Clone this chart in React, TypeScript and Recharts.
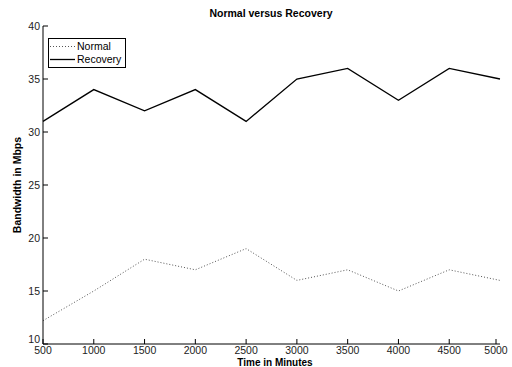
import React from "react";
import { LineChart, Line, XAxis, YAxis, Legend } from "recharts";

const minutes = [500, 1000, 1500, 2000, 2500, 3000, 3500, 4000, 4500, 5000];
const normal = [12.2, 15, 18, 17, 19, 16, 17, 15, 17, 16];
const recovery = [31, 34, 32, 34, 31, 35, 36, 33, 36, 35];
const xTicks = [500, 1000, 1500, 2000, 2500, 3000, 3500, 4000, 4500, 5000];
const yTicks = [10, 15, 20, 25, 30, 35, 40];

const data = minutes.map((m, i) => ({ m, normal: normal[i], recovery: recovery[i] }));

const font = "'Liberation Sans', Arial, sans-serif";
const TICK = 5;

// MATLAB-style inward ticks
const BottomTick = (p: any) => (
  <g>
    <line x1={p.x} y1={p.y} x2={p.x} y2={p.y - TICK} stroke="#000" />
    <text x={p.x} y={p.y + 9.5} textAnchor="middle" fontSize={10.5} fontFamily={font} fill="#222">
      {p.payload.value}
    </text>
  </g>
);
const LeftTick = (p: any) => (
  <g>
    <line x1={p.x} y1={p.y} x2={p.x + TICK} y2={p.y} stroke="#000" />
    <text
      x={p.x - 3}
      y={p.y + (p.payload.value === 10 ? -1 : 4)}
      textAnchor="end"
      fontSize={10.5}
      fontFamily={font}
      fill="#222"
    >
      {p.payload.value}
    </text>
  </g>
);
const TopTick = (p: any) => <line x1={p.x} y1={p.y} x2={p.x} y2={p.y + TICK} stroke="#000" />;
const RightTick = (p: any) => <line x1={p.x} y1={p.y} x2={p.x - TICK} y2={p.y} stroke="#000" />;

const LegendBox = () => (
  <svg width={78} height={30} style={{ display: "block" }}>
    <rect x={0.5} y={0.5} width={77} height={29} fill="#fff" stroke="#000" />
    <line x1={2} y1={8.5} x2={27} y2={8.5} stroke="#555" strokeDasharray="1 2" />
    <text x={29} y={12} fontSize={10.5} fontFamily={font} fill="#000">Normal</text>
    <line x1={2} y1={21.5} x2={27} y2={21.5} stroke="#000" strokeWidth={1.3} />
    <text x={29} y={25} fontSize={10.5} fontFamily={font} fill="#000">Recovery</text>
  </svg>
);

export default function App() {
  return (
    <div style={{ position: "absolute", left: 0, top: 0, width: 512, height: 367, background: "#fff" }}>
      <LineChart width={512} height={367} data={data} margin={{ top: 26, right: 12, left: 13, bottom: 3 }}>
        <XAxis
          xAxisId="b"
          dataKey="m"
          type="number"
          domain={[500, 5000]}
          ticks={xTicks}
          height={20}
          tickSize={0}
          tickMargin={0}
          tick={<BottomTick />}
          axisLine={{ stroke: "#000" }}
          tickLine={false}
        />
        <XAxis
          xAxisId="t"
          orientation="top"
          dataKey="m"
          type="number"
          domain={[500, 5000]}
          ticks={xTicks}
          height={0}
          tickSize={0}
          tickMargin={0}
          tick={<TopTick />}
          axisLine={{ stroke: "#000" }}
          tickLine={false}
        />
        <YAxis
          yAxisId="l"
          domain={[10, 40]}
          ticks={yTicks}
          width={30}
          tickSize={0}
          tickMargin={0}
          tick={<LeftTick />}
          axisLine={{ stroke: "#000" }}
          tickLine={false}
        />
        <YAxis
          yAxisId="r"
          orientation="right"
          domain={[10, 40]}
          ticks={yTicks}
          width={0}
          tickSize={0}
          tickMargin={0}
          tick={<RightTick />}
          axisLine={{ stroke: "#000" }}
          tickLine={false}
        />
        <Legend
          layout="horizontal"
          verticalAlign="middle"
          align="center"
          content={<LegendBox />}
          wrapperStyle={{ position: "absolute", left: 48, top: 38, width: 78, height: 30 }}
        />
        <Line
          xAxisId="b"
          yAxisId="l"
          dataKey="normal"
          stroke="#555"
          strokeWidth={1}
          strokeDasharray="1 2"
          dot={false}
          isAnimationActive={false}
        />
        <Line
          xAxisId="b"
          yAxisId="l"
          dataKey="recovery"
          stroke="#000"
          strokeWidth={1.3}
          dot={false}
          isAnimationActive={false}
        />
        <text x={271} y={17} textAnchor="middle" fontSize={10.5} fontWeight="bold" fontFamily={font}>
          Normal versus Recovery
        </text>
        <text x={275} y={366} textAnchor="middle" fontSize={10} fontWeight="bold" fontFamily={font}>
          Time in Minutes
        </text>
        <text
          x={21}
          y={185}
          textAnchor="middle"
          fontSize={10.5}
          fontWeight="bold"
          fontFamily={font}
          transform="rotate(-90 21 185)"
        >
          Bandwidth in Mbps
        </text>
      </LineChart>
    </div>
  );
}
